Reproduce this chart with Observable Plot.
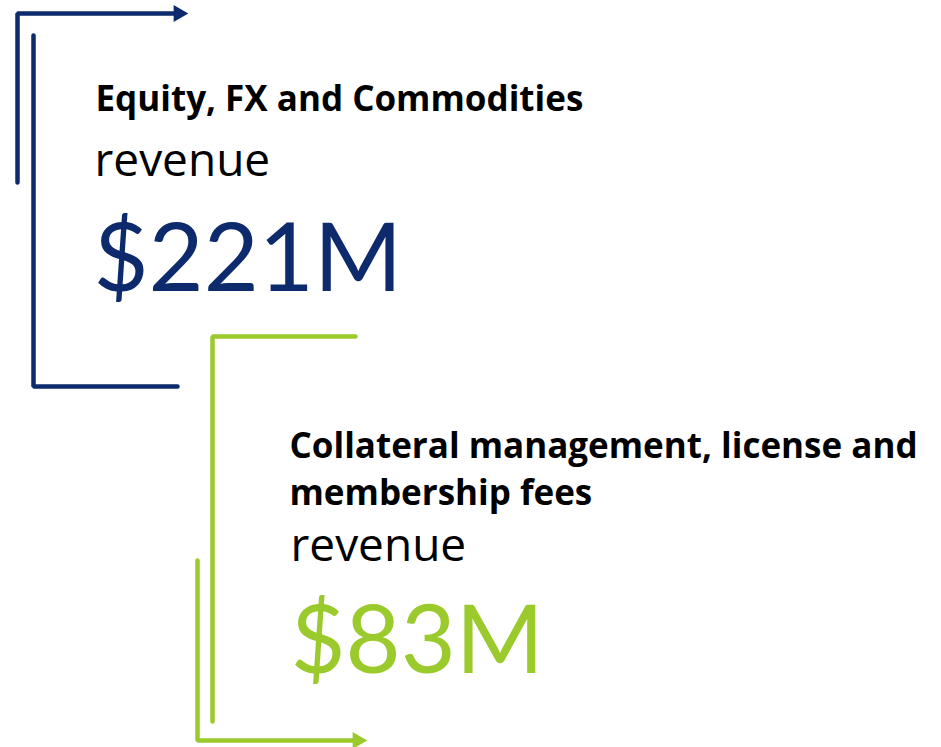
<!DOCTYPE html>
<html>
<head>
<meta charset="utf-8">
<script src="https://cdn.jsdelivr.net/npm/d3@7"></script>
<script src="https://cdn.jsdelivr.net/npm/@observablehq/plot@0.6"></script>
<style>
  html, body { margin: 0; padding: 0; background: #ffffff; }
  #chart svg { display: block; }
</style>
</head>
<body>
<div id="chart"></div>
<script>
// ---- data ----
const segments = ["Equity, FX and Commodities", "Collateral management, license and membership fees"];
const revenueM = [221, 83];
const valueLabels = revenueM.map(v => `$${v}M`);
const subLabel = "revenue";
const colors = ["#0C2A6C", "#9ACA2C"];

// bracket outlines (layout, in pixel space of the 941x747 canvas)
const bracketPaths = [
  {id: 0, pts: [[17, 182], [17, 13], [180, 13]]},
  {id: 0, pts: [[33, 35], [33, 386], [177, 386]]},
  {id: 1, pts: [[355, 336], [212, 336], [212, 721]]},
  {id: 1, pts: [[197, 560], [197, 740], [358, 740]]}
];
const arrowTips = [
  {id: 0, x: 178, y: 13},
  {id: 1, x: 357, y: 740}
];

// text rows
const titleRows = [
  {id: 0, x: 95, y: 110, text: "Equity, FX and Commodities"},
  {id: 1, x: 289, y: 457, text: "Collateral management, license and"},
  {id: 1, x: 289, y: 504, text: "membership fees"}
];
const revenueRows = [
  {id: 0, x: 94, y: 175, text: subLabel},
  {id: 1, x: 290, y: 560, text: subLabel}
];
const valueRows = [
  {id: 0, x: 93, y: 290, text: valueLabels[0]},
  {id: 1, x: 290, y: 672, text: valueLabels[1]}
];

const lineRows = bracketPaths.flatMap((p, i) => p.pts.map(([x, y]) => ({path: i, id: p.id, x, y})));
const fontBody = "'Open Sans', Lato, sans-serif";
const fontValue = "Lato, 'Open Sans', sans-serif";

const chart = Plot.plot({
  width: 941,
  height: 747,
  margin: 0,
  x: {domain: [0, 941], range: [0, 941], axis: null},
  y: {domain: [0, 747], range: [0, 747], axis: null},
  style: {background: "#ffffff", fontFamily: fontBody, overflow: "visible"},
  marks: [
    Plot.line(lineRows, {
      x: "x", y: "y", z: "path",
      stroke: d => colors[d.id],
      strokeWidth: 4.5,
      strokeLinecap: "round",
      strokeLinejoin: "miter",
      curve: "linear"
    }),
    Plot.dot(arrowTips, {
      x: "x", y: "y",
      symbol: "triangle",
      rotate: 90,
      r: 6.3,
      fill: d => colors[d.id],
      stroke: "none"
    }),
    Plot.text(titleRows, {
      x: "x", y: "y", text: "text",
      textAnchor: "start", lineAnchor: "bottom",
      fontSize: 35, fontWeight: "bold", fill: "#000000", fontFamily: fontBody
    }),
    Plot.text(revenueRows, {
      x: "x", y: "y", text: "text",
      textAnchor: "start", lineAnchor: "bottom",
      fontSize: 46, fill: "#000000", fontFamily: fontBody
    }),
    Plot.text(valueRows, {
      x: "x", y: "y", text: "text",
      textAnchor: "start", lineAnchor: "bottom",
      fontSize: 95, fill: d => colors[d.id], fontFamily: fontValue
    })
  ]
});
document.getElementById("chart").appendChild(chart);
</script>
</body>
</html>
